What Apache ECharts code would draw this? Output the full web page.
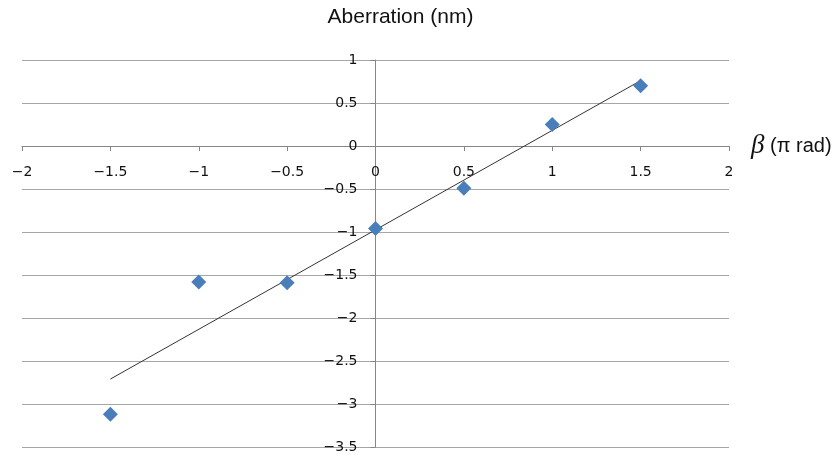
<!DOCTYPE html>
<html>
<head>
<meta charset="utf-8">
<script src="https://cdn.jsdelivr.net/npm/echarts@6/dist/echarts.min.js"></script>
<style>
  html, body { margin: 0; padding: 0; background: #fff; }
  #chart { width: 840px; height: 456px; }
</style>
</head>
<body>
<div id="chart"></div>
<script>
var myChart = echarts.init(document.getElementById('chart'));

// 数据
var betaValues = [-1.5, -1, -0.5, 0, 0.5, 1, 1.5];          // β (π rad)
var aberration = [-3.12, -1.58, -1.59, -0.96, -0.49, 0.25, 0.70]; // nm
var trendX = [-1.5, 1.5];       // 趋势线两端
var trendY = [-2.71, 0.76];

var points = betaValues.map(function (x, i) { return [x, aberration[i]]; });
var trend = trendX.map(function (x, i) { return [x, trendY[i]]; });

function minusFmt(v) {
    return String(v).replace('-', '\u2212');
}

// 网格位置 (坐标轴交于原点)
var gLeft = 22, gRight = 111, gTop = 60, gBottom = 9;
var gW = 840 - gLeft - gRight, gH = 456 - gTop - gBottom;
var xOffset = -gH * (0 - (-3.5)) / (1 - (-3.5));   // x轴移到 y=0
var yOffset = -gW * (0 - (-2)) / (2 - (-2));       // y轴移到 x=0

var option = {
    animation: false,
    grid: {
        left: gLeft,
        right: gRight,
        top: gTop,
        bottom: gBottom,
        containLabel: false,
        outerBoundsMode: 'none'
    },
    xAxis: {
        type: 'value',
        min: -2,
        max: 2,
        interval: 0.5,
        position: 'bottom',
        offset: xOffset,
        axisLine: { onZero: false, lineStyle: { color: '#868686', width: 1 } },
        axisTick: { show: true, length: 5, lineStyle: { color: '#868686' } },
        axisLabel: {
            formatter: minusFmt,
            color: '#111',
            fontSize: 14,
            fontFamily: 'DejaVu Sans',
            margin: 19
        },
        splitLine: { show: false },
        name: '{b|β} (π rad)',
        nameLocation: 'end',
        nameGap: 22,
        nameTextStyle: {
            color: '#111',
            fontSize: 20,
            fontFamily: 'Liberation Sans',
            rich: {
                b: { fontSize: 27, fontStyle: 'italic', fontFamily: 'Liberation Serif', color: '#111' }
            }
        }
    },
    yAxis: {
        type: 'value',
        min: -3.5,
        max: 1,
        interval: 0.5,
        position: 'left',
        offset: yOffset,
        axisLine: { show: true, onZero: false, lineStyle: { color: '#868686', width: 1 } },
        axisTick: { show: true, length: 5, lineStyle: { color: '#868686' } },
        axisLabel: {
            formatter: minusFmt,
            color: '#111',
            fontSize: 14,
            fontFamily: 'DejaVu Sans',
            margin: 18
        },
        splitLine: { show: true, lineStyle: { color: '#a6a6a6', width: 1 } },
        name: 'Aberration (nm)',
        nameLocation: 'end',
        nameGap: 32,
        nameTextStyle: {
            color: '#111',
            fontSize: 21,
            fontFamily: 'Liberation Sans',
            align: 'center',
            padding: [0, 0, 0, 50]
        }
    },
    series: [
        {
            name: 'trend',
            type: 'line',
            data: trend,
            symbol: 'none',
            lineStyle: { color: '#333', width: 1 },
            z: 2
        },
        {
            name: 'Aberration',
            type: 'scatter',
            data: points,
            symbol: 'diamond',
            symbolSize: [15, 15],
            itemStyle: { color: '#4a7ebb', opacity: 1 },
            z: 3
        }
    ]
};

myChart.setOption(option);
</script>
</body>
</html>
